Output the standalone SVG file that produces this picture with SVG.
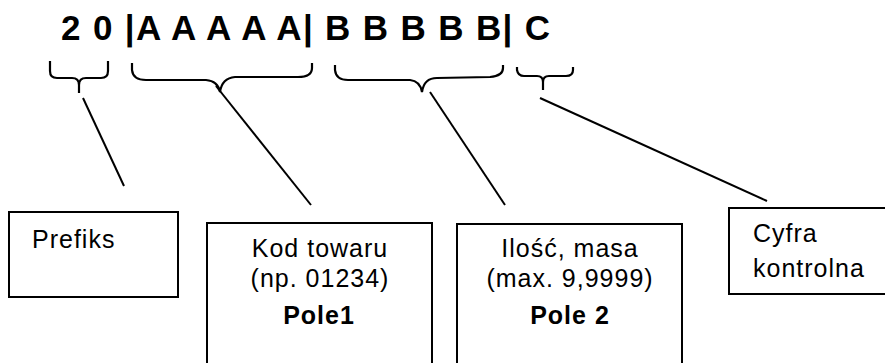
<svg xmlns="http://www.w3.org/2000/svg" width="885" height="363" viewBox="0 0 885 363">
<style>
text{font-family:"Liberation Sans",Arial,sans-serif;fill:#000}
.t{font-size:25px;letter-spacing:1px}
.b{font-size:25px;font-weight:bold;letter-spacing:1px}
.c{text-anchor:middle}
.box{fill:#fff;stroke:#000;stroke-width:2}
.br{fill:none;stroke:#000;stroke-width:2.2;stroke-linejoin:round}
.ln{stroke:#000;stroke-width:2}
</style>
<rect width="885" height="363" fill="#fff"/>
<g id="title">
<text x="61" y="40" font-size="35" font-weight="bold" textLength="489" lengthAdjust="spacing">2 0 |A A A A A| B B B B B| C</text>
</g>
<g id="braces">
<path class="br" d="M50,61 L50,71 Q50,78 57,78 L72,78 Q79,78 79,85 L79,93 M79,85 Q79,78 86,78 L101,78 Q108,78 108,71 L108,61"/>
<path class="br" d="M132,63 L132,70 Q133,80 146,80 L206,80 Q218,81 220,92 M220,92 Q222,78 235,77 L298,77 Q312,77 312,68 L312,63"/>
<path class="br" d="M335,65 L335,70 Q336,80 348,80 L410,80 Q420,81 422,92 M422,92 Q424,78 437,78 L490,77 Q503,76 503,68 L503,65"/>
<path class="br" d="M517,67 L517,70 Q518,76 524,76 L537,76 Q543,76 543,82 L543,90 M543,82 Q543,76 549,76 L566,76 Q573,76 573,70 L573,67"/>
</g>
<g id="connectors">
<line class="ln" x1="83" y1="98" x2="124" y2="186"/>
<line class="ln" x1="216" y1="86" x2="311" y2="205"/>
<line class="ln" x1="430" y1="92" x2="505" y2="205"/>
<line class="ln" x1="540" y1="98" x2="767" y2="201"/>
</g>
<g id="prefiks">
<rect class="box" x="9" y="212" width="169" height="85"/>
<text class="t" x="32" y="248">Prefiks</text>
</g>
<g id="pole1">
<rect class="box" x="207" y="223" width="225" height="150"/>
<text class="t c" x="320" y="257">Kod towaru</text>
<text class="t c" x="320" y="287">(np. 01234)</text>
<text class="b c" x="319" y="324">Pole1</text>
</g>
<g id="pole2">
<rect class="box" x="457" y="224" width="225" height="150"/>
<text class="t c" x="570" y="257">Ilość, masa</text>
<text class="t c" x="570" y="287">(max. 9,9999)</text>
<text class="b c" x="570" y="324">Pole 2</text>
</g>
<g id="cyfra">
<rect class="box" x="729" y="208" width="170" height="86"/>
<text class="t" x="753" y="242">Cyfra</text>
<text class="t" x="753" y="277">kontrolna</text>
</g>
</svg>
